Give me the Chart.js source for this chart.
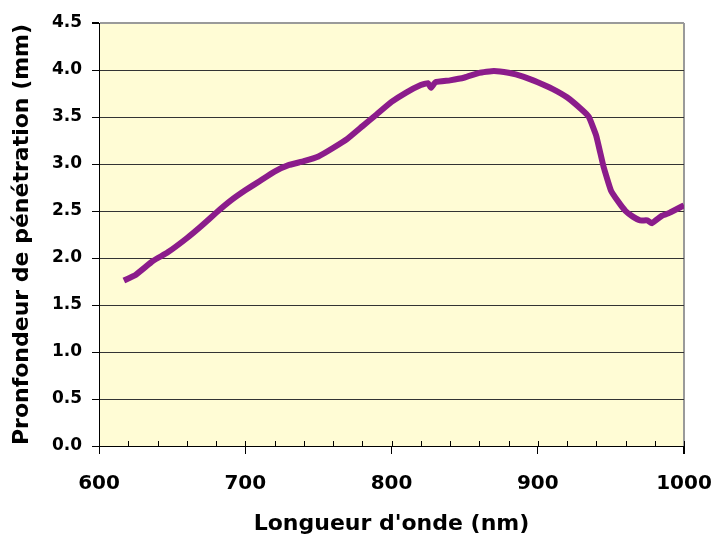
<!DOCTYPE html>
<html>
<head>
<meta charset="utf-8">
<script src="https://cdn.jsdelivr.net/npm/chart.js@4"></script>
<style>
  html, body { margin: 0; padding: 0; background: #fff; }
  #zone { width: 712px; height: 538px; }
</style>
</head>
<body>
<div id="zone"><canvas id="graphe"></canvas></div>
<script>
// longueurs d'onde (nm) et profondeur (mm)
let longueurs = [617, 625, 637, 647, 660, 670, 680, 690, 700, 710, 720, 730, 740, 750, 760, 770, 780, 790, 800, 810, 820, 825, 827, 830, 840, 850, 860, 870, 880, 890, 900, 910, 920, 930, 935, 940, 945, 950, 955, 960, 965, 970, 975, 978, 985, 990, 1000];
let profondeurs = [1.76, 1.82, 1.97, 2.06, 2.21, 2.34, 2.48, 2.61, 2.72, 2.82, 2.92, 2.99, 3.03, 3.08, 3.17, 3.27, 3.40, 3.53, 3.66, 3.76, 3.84, 3.86, 3.81, 3.87, 3.89, 3.92, 3.97, 3.99, 3.97, 3.93, 3.87, 3.80, 3.71, 3.58, 3.50, 3.30, 2.97, 2.72, 2.60, 2.50, 2.44, 2.40, 2.40, 2.37, 2.45, 2.48, 2.56];
let ticksX = [600, 700, 800, 900, 1000];
let ticksMineursX = [620, 640, 660, 680, 720, 740, 760, 780, 820, 840, 860, 880, 920, 940, 960, 980];

let points = longueurs.map((x, i) => ({ x: x, y: profondeurs[i] }));

// fond jaune + petites graduations de l'axe x
const fondEtGraduations = {
    id: 'fondEtGraduations',
    beforeDraw(chart) {
        let { ctx, chartArea } = chart;
        ctx.save();
        ctx.fillStyle = '#FFFCD5';
        ctx.fillRect(chartArea.left, chartArea.top, chartArea.right - chartArea.left, chartArea.bottom - chartArea.top);
        ctx.restore();
    },
    afterDraw(chart) {
        let { ctx, chartArea } = chart;
        let sx = chart.scales.x;
        ctx.save();
        ctx.strokeStyle = '#000';
        ctx.lineWidth = 1;
        ticksMineursX.concat(ticksX).forEach(v => {
            let px = Math.round(sx.getPixelForValue(v)) + 0.5;
            ctx.beginPath();
            ctx.moveTo(px, chartArea.bottom - 5);
            ctx.lineTo(px, chartArea.bottom);
            ctx.stroke();
        });
        ctx.restore();
    }
};

let ctx = document.getElementById('graphe').getContext('2d');
let monGraphe = new Chart(ctx, {
    type: 'line',
    data: {
        datasets: [{
            data: points,
            borderColor: '#8B1C8B',
            borderWidth: 6,
            pointRadius: 0,
            tension: 0.1,
            fill: false,
            borderCapStyle: 'butt'
        }]
    },
    options: {
        responsive: true,
        maintainAspectRatio: false,
        animation: false,
        layout: { padding: { top: 23, right: 28, left: 0, bottom: 0 } },
        plugins: {
            legend: { display: false },
            tooltip: { enabled: false }
        },
        scales: {
            x: {
                type: 'linear',
                min: 600,
                max: 1000,
                afterFit: s => { s.height = 92; s.paddingLeft = 0; s.paddingRight = 0; },
                afterBuildTicks: s => { s.ticks = ticksX.map(v => ({ value: v })); },
                ticks: {
                    color: '#000',
                    font: { family: 'DejaVu Sans', size: 20, weight: 'bold' },
                    padding: 18,
                    maxRotation: 0,
                    callback: v => String(v)
                },
                grid: {
                    drawOnChartArea: true,
                    color: c => (c.tick && c.tick.value === 1000) ? '#9a9a9a' : 'rgba(0,0,0,0)',
                    lineWidth: c => (c.tick && c.tick.value === 1000) ? 2 : 1,
                    tickColor: '#000',
                    tickLength: 8
                },
                border: { color: '#000', width: 1 },
                title: {
                    display: true,
                    text: "Longueur d'onde (nm)",
                    color: '#000',
                    font: { family: 'DejaVu Sans', size: 22, weight: 'bold' },
                    padding: { top: 0, bottom: 1 }
                }
            },
            y: {
                min: 0,
                max: 4.5,
                afterFit: s => { s.width = 99; },
                ticks: {
                    stepSize: 0.5,
                    color: '#000',
                    font: { family: 'DejaVu Sans', size: 17, weight: 'bold' },
                    padding: 10,
                    callback: v => v.toFixed(1)
                },
                grid: {
                    color: c => (c.tick && c.tick.value === 4.5) ? '#9a9a9a' : '#333',
                    lineWidth: c => (c.tick && c.tick.value === 4.5) ? 2 : 1,
                    tickColor: '#000',
                    tickLength: 7
                },
                border: { color: '#000', width: 1 },
                title: {
                    display: true,
                    text: 'Pronfondeur de pénétration (mm)',
                    color: '#000',
                    font: { family: 'DejaVu Sans', size: 22, weight: 'bold' },
                    padding: { top: 9, bottom: 0 }
                }
            }
        }
    },
    plugins: [fondEtGraduations]
});
</script>
</body>
</html>
